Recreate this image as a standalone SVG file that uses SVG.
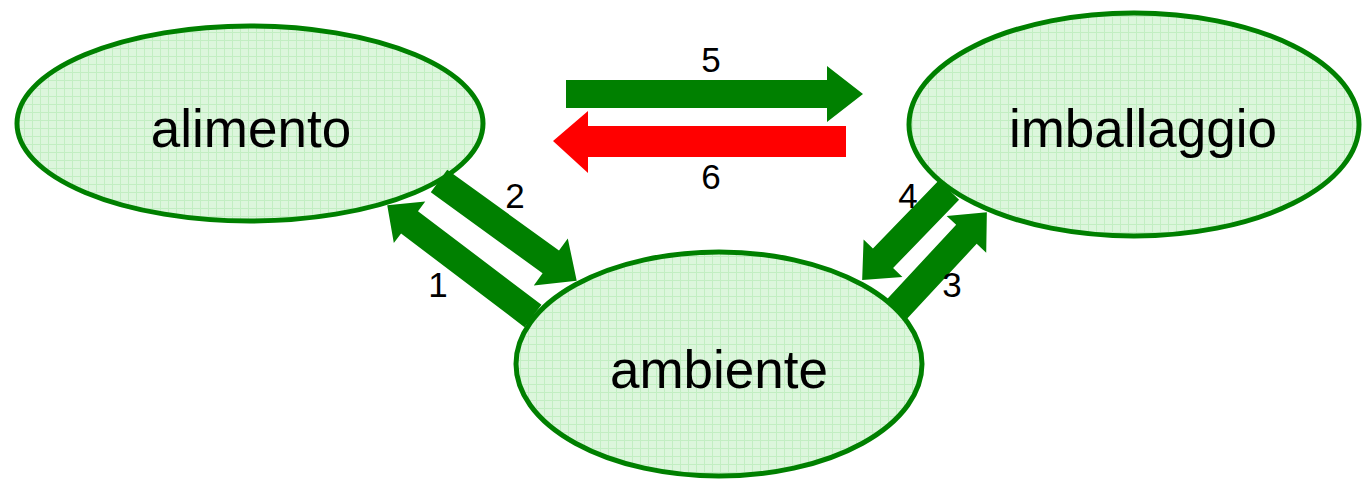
<svg xmlns="http://www.w3.org/2000/svg" width="1362" height="480" viewBox="0 0 1362 480">
  <style>
    .node { fill: url(#grid); stroke: #008000; stroke-width: 5; }
    .label { font-family: "Liberation Sans", Arial, sans-serif; font-size: 53px; fill: #000; text-anchor: middle; }
    .num { font-family: "Liberation Sans", Arial, sans-serif; font-size: 35px; fill: #000; text-anchor: middle; }
    .go { fill: #008000; }
    .back { fill: #ff0000; }
  </style>
  <defs>
    <!-- light green fill with a fine grid -->
    <pattern id="grid" width="8" height="8" patternUnits="userSpaceOnUse">
      <rect width="8" height="8" fill="#dcf6dc"/>
      <path d="M0 0.5H8M0.5 0V8" stroke="#c2eec2" stroke-width="1" fill="none"/>
    </pattern>
  </defs>

  <g id="alimento">
    <ellipse class="node" cx="250" cy="123.5" rx="233" ry="97.5"/>
    <text class="label" x="251" y="147">alimento</text>
  </g>
  <g id="imballaggio">
    <ellipse class="node" cx="1134" cy="124.5" rx="225" ry="111.5"/>
    <text class="label" x="1143" y="147">imballaggio</text>
  </g>
  <g id="ambiente">
    <ellipse class="node" cx="719" cy="364" rx="203" ry="112"/>
    <text class="label" x="719" y="388">ambiente</text>
  </g>

  <g id="connectors">
    <!-- 5: alimento to imballaggio -->
    <polygon class="go" points="566,80 827,80 827,66 863,94 827,122 827,108 566,108"/>
    <!-- 6: imballaggio to alimento -->
    <polygon class="back" points="846,126 588,126 588,111 553,141 588,173 588,157 846,157"/>
    <!-- 2: alimento to ambiente -->
    <polygon class="go" transform="translate(439,181) rotate(35.9)" points="0,-14 138,-14 138,-29 170,0 138,29 138,14 0,14"/>
    <!-- 1: ambiente to alimento -->
    <polygon class="go" transform="translate(533,316) rotate(217.2)" points="0,-14 155,-14 155,-26 183,0 155,26 155,14 0,14"/>
    <!-- 4: imballaggio to ambiente -->
    <polygon class="go" transform="translate(949,190) rotate(134)" points="0,-14 95,-14 95,-27 125,0 95,27 95,14 0,14"/>
    <!-- 3: ambiente to imballaggio -->
    <polygon class="go" transform="translate(897,309) rotate(-47.1)" points="0,-14 102,-14 102,-27 132,0 102,27 102,14 0,14"/>

    <text class="num" x="711" y="72">5</text>
    <text class="num" x="711" y="189">6</text>
    <text class="num" x="515" y="208">2</text>
    <text class="num" x="438" y="297">1</text>
    <text class="num" x="908" y="208">4</text>
    <text class="num" x="952" y="297">3</text>
  </g>
</svg>
